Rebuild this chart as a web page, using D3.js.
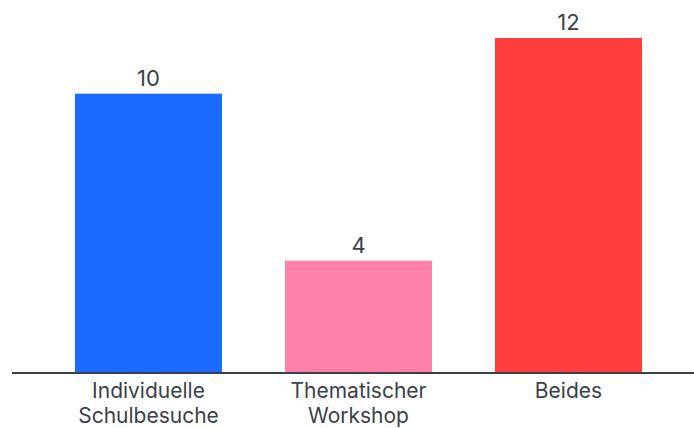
<!DOCTYPE html>
<html><head><meta charset="utf-8">
<script src="https://cdn.jsdelivr.net/npm/d3@7"></script>
<style>body{margin:0;background:#fff}svg{display:block}</style>
</head><body><div id="chart"></div>
<script>
const categories = [["Individuelle","Schulbesuche"],["Thematischer","Workshop"],["Beides"]];
const values = [10, 4, 12];
const colors = ["#1a6aff", "#ff80a8", "#ff3d3d"];

const W = 694, H = 428;
const svg = d3.select("#chart").append("svg").attr("width", W).attr("height", H);
const keys = categories.map(c => c.join(" "));
const x = d3.scaleBand().domain(keys).range([12, 705]).paddingInner(0.3).paddingOuter(0.3);
const y = d3.scaleLinear().domain([0, 12]).range([372, 38]);
const font = "Inter, 'Noto Sans', sans-serif";
const textColor = "#3b3f4a";

svg.selectAll("rect.bar").data(values).join("rect")
  .attr("class","bar")
  .attr("x", (d,i) => x(keys[i]))
  .attr("width", x.bandwidth())
  .attr("y", d => y(d))
  .attr("height", d => y(0) - y(d))
  .attr("fill", (d,i) => colors[i]);

svg.selectAll("text.val").data(values).join("text")
  .attr("class","val")
  .attr("x", (d,i) => x(keys[i]) + x.bandwidth()/2)
  .attr("y", d => y(d) - 8)
  .attr("text-anchor","middle")
  .attr("font-family", font).attr("font-size", 22)
  .attr("fill", textColor)
  .text(d => d);

const axis = d3.axisBottom(x).tickSize(0).tickFormat("");
const g = svg.append("g").attr("transform", `translate(0,${y(0)})`).call(axis);
g.select(".domain").remove();
g.append("line").attr("x1",12).attr("x2",W).attr("y1",1).attr("y2",1)
  .attr("stroke","#3b3f4a").attr("stroke-width",2);

categories.forEach((lines, i) => {
  const t = svg.append("text")
    .attr("x", x(keys[i]) + x.bandwidth()/2)
    .attr("y", 398)
    .attr("text-anchor","middle")
    .attr("font-family", font).attr("font-size", 21)
    .attr("fill", textColor);
  lines.forEach((l, j) => t.append("tspan")
    .attr("x", x(keys[i]) + x.bandwidth()/2)
    .attr("dy", j === 0 ? 0 : 25).text(l));
});
</script></body></html>
